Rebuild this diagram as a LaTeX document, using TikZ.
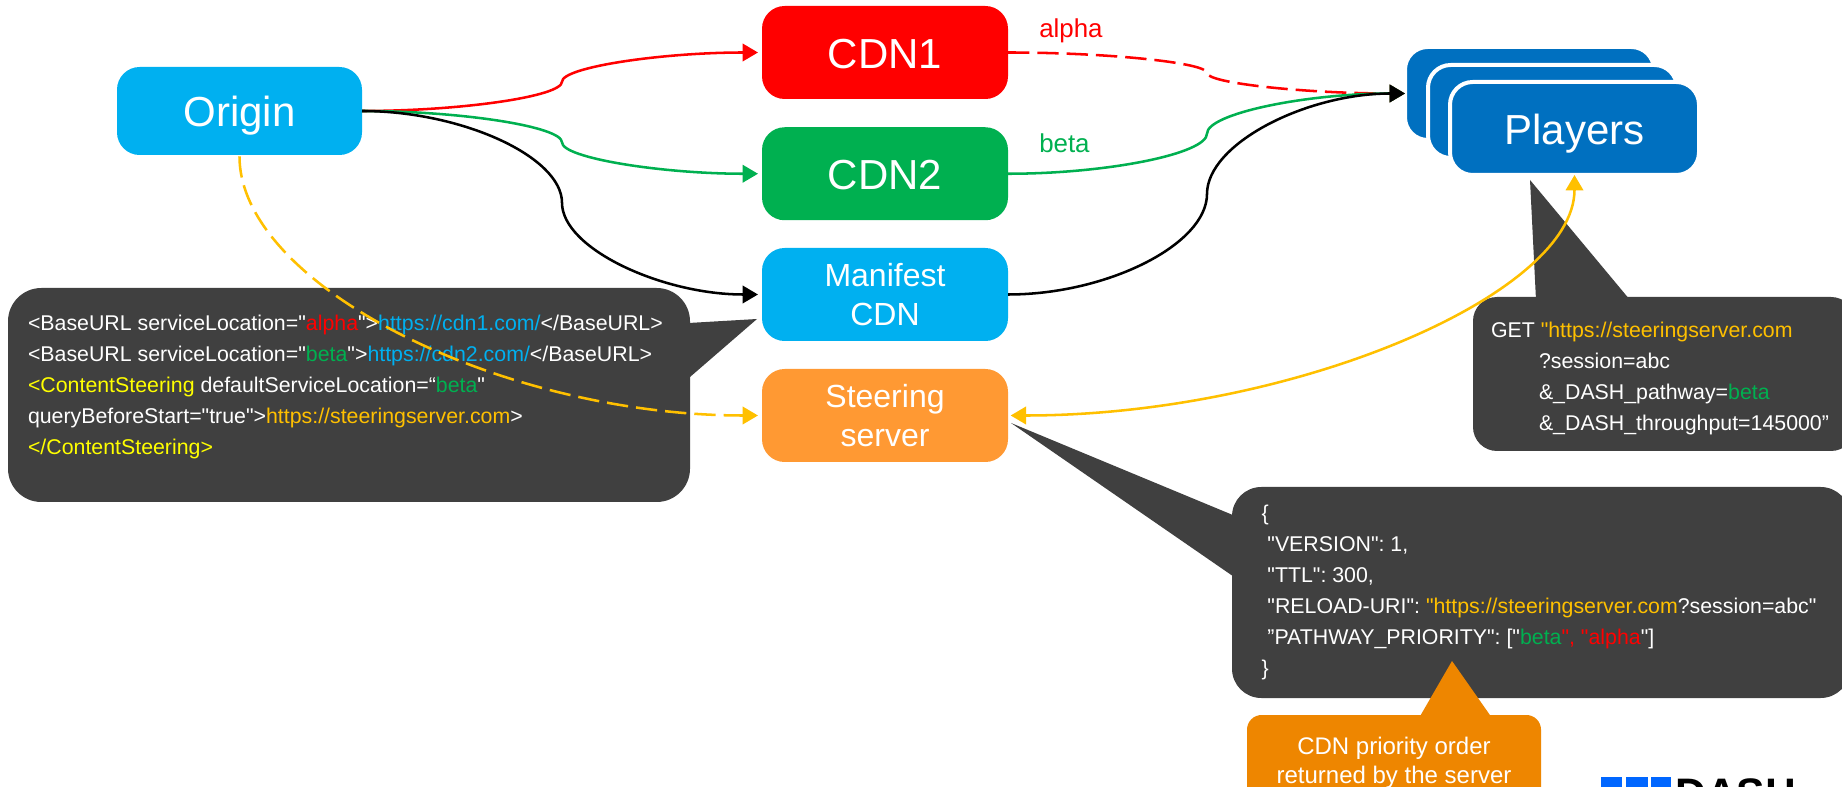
\documentclass[tikz,border=0pt]{standalone}
\usepackage{fontspec}
\setmainfont{Liberation Sans}[Ligatures=TeXOff]
\frenchspacing
\usetikzlibrary{arrows.meta,calc}
\definecolor{cdnblue}{HTML}{00B0F0}
\definecolor{cdnred}{HTML}{FF0000}
\definecolor{cdngreen}{HTML}{00B050}
\definecolor{steerorange}{HTML}{FF9933}
\definecolor{playerblue}{HTML}{0070C0}
\definecolor{calloutgrey}{HTML}{404040}
\definecolor{noteorange}{HTML}{EE8600}
\definecolor{linkyellow}{HTML}{FFC000}
\definecolor{tagyellow}{HTML}{FFFF00}
\definecolor{logoblue}{HTML}{0066FF}
\newcommand{\sconn}[4][]{%
  \draw[#1] let \p1=(#2), \p2=(#3), \p3=(#4) in
    (\p1) .. controls ({(\x1+\x3)/2},\y1) and (\x3,{\y1+(\y2-\y1)/4}) .. (\x3,{(\y1+\y2)/2})
          .. controls (\x3,{\y1+3*(\y2-\y1)/4}) and ({(\x3+\x2)/2},\y2) .. (\p2);}
\tikzset{
  box/.style={rectangle,rounded corners=17pt,inner sep=0pt,outer sep=0pt,text=white,align=center},
  onelarge/.style={font=\fontsize{31.5}{38}\selectfont,text height=24pt,text depth=0pt},
  twoline/.style={font=\fontsize{24}{29.25}\selectfont},
  cdnbox/.style={box,minimum width=184.5pt,minimum height=69.75pt},
  playerbox/.style={box,fill=playerblue,draw=white,line width=3pt,minimum width=186.75pt,minimum height=69.75pt},
  callout/.style={rectangle,fill=calloutgrey,inner sep=0pt,outer sep=0pt},
  calltext/.style={anchor=north west,inner sep=0pt,outer sep=0pt,text=white,align=left,font=\fontsize{16}{23.2}\selectfont},
  edgelabel/.style={anchor=base west,inner sep=0pt,font=\fontsize{19.4}{23}\selectfont},
  bigtip/.tip={Triangle[length=11.5pt,width=13pt]},
  conn/.style={line width=1.9pt,-bigtip},
  dashline/.style={dash pattern=on 16pt off 6pt},
}
\begin{document}
\begin{tikzpicture}[x=0.75pt,y=-0.75pt]
\useasboundingbox (0,0) rectangle (1842,787);
\clip (0,0) rectangle (1842,787);
\fill[white] (0,0) rectangle (1842,787);
% main boxes
\node[box,onelarge,fill=cdnblue,minimum width=183.75pt,minimum height=66pt] (origin) at (239.5,111) {Origin};
\node[cdnbox,onelarge,fill=cdnred] (cdn1) at (885,52.5) {CDN1};
\node[cdnbox,onelarge,fill=cdngreen] (cdn2) at (885,173.75) {CDN2};
\node[cdnbox,twoline,fill=cdnblue] (manifest) at (885,294.5) {Manifest\\CDN};
\node[cdnbox,twoline,fill=steerorange] (steering) at (885,415.5) {Steering\\server};
\node[playerbox] (playersback) at (1529.5,93.5) {};
\node[playerbox] (playersmid) at (1552.5,111.5) {};
\node[playerbox,onelarge] (players) at (1574.5,128.5) {Players};
% callouts
\fill[calloutgrey] (757,319) -- (680,323.5) -- (680,377) -- (690,377) -- cycle;
\node[callout,rounded corners=25pt,minimum width=511.5pt,minimum height=160.5pt] (manifestnote) at (349,395) {};
\node[calltext] (manifesttext) at (28,315) {%
<BaseURL serviceLocation="\textcolor{cdnred}{alpha}">\textcolor{cdnblue}{https://cdn1.com/}</BaseURL>\\
<BaseURL serviceLocation="\textcolor{cdngreen}{beta}">\textcolor{cdnblue}{https://cdn2.com/}</BaseURL>\\
\textcolor{tagyellow}{<ContentSteering} defaultServiceLocation=“\textcolor{cdngreen}{beta}"\\
queryBeforeStart="true">\textcolor{linkyellow}{https://steeringserver.com}>\\
\textcolor{tagyellow}{</ContentSteering>}};
\fill[calloutgrey] (1530,180) -- (1536,300) -- (1630,300) -- cycle;
\node[callout,rounded corners=18pt,minimum width=286.5pt,minimum height=115.5pt] (requestnote) at (1664,374) {};
\node[calltext] (requesttext) at (1491,322) {%
GET \textcolor{linkyellow}{"https://steeringserver.com}\\
\hspace*{36pt}?session=abc\\
\hspace*{36pt}\&\_DASH\_pathway=\textcolor{cdngreen}{beta}\\
\hspace*{36pt}\&\_DASH\_throughput=145000”};
\fill[calloutgrey] (1011,423) -- (1240,518) -- (1240,581) -- cycle;
\node[callout,rounded corners=22pt,minimum width=463.5pt,minimum height=158.25pt] (responsenote) at (1541,592.5) {};
\node[calltext] (responsetext) at (1261.5,505.5) {%
\{\\
\hspace*{4.45pt}"VERSION": 1,\\
\hspace*{4.45pt}"TTL": 300,\\
\hspace*{4.45pt}"RELOAD-URI": \textcolor{linkyellow}{"https://steeringserver.com}?session=abc"\\
\hspace*{4.45pt}”PATHWAY\_PRIORITY": ["\textcolor{cdngreen}{beta}\textcolor{cdnred}{", "alpha}"]\\
\}};
\fill[noteorange] (1452,661) -- (1419,718) -- (1492,718) -- cycle;
\node[callout,fill=noteorange,rounded corners=11pt,minimum width=220.5pt,minimum height=82.5pt] (prioritynote) at (1394,770) {};
\node[anchor=north,inner sep=0pt,text=white,align=center,font=\fontsize{18}{21.75}\selectfont] (prioritytext) at (1394,736.5) {CDN priority order\\returned by the server};
% connectors
\coordinate (leftmid) at (562,0);
\coordinate (rightmid) at (1207,0);
\sconn[conn,cdnred,shorten >=3pt]{origin.east}{cdn1.west}{leftmid}
\sconn[conn,cdngreen,shorten >=3pt]{origin.east}{cdn2.west}{leftmid}
\sconn[conn,black,shorten >=3pt]{origin.east}{manifest.west}{leftmid}
\sconn[conn,dashline,cdnred]{cdn1.east}{playersback.west}{rightmid}
\sconn[conn,cdngreen]{cdn2.east}{playersback.west}{rightmid}
\sconn[conn,black]{manifest.east}{playersback.west}{rightmid}
\draw[conn,dashline,linkyellow,shorten >=3pt,shorten <=1pt] let \p1=(origin.south), \p2=(steering.west) in
  (\p1) .. controls (\x1,{(\y1+\y2)/2}) and ({(\x1+\x2)/2},\y2) .. (\p2);
\draw[line width=1.9pt,linkyellow,bigtip-bigtip,shorten <=2pt] let \p1=(steering.east), \p2=(players.south) in
  (\p1) .. controls ({(\x1+\x2)/2},\y1) and (\x2,{(\y1+\y2)/2}) .. (\p2);
% labels
\node[edgelabel,text=cdnred] (alphalabel) at (1039,38) {alpha};
\node[edgelabel,text=cdngreen] (betalabel) at (1039,153) {beta};
% logo
\fill[logoblue] (1601,777) rectangle (1622,800);
\fill[logoblue] (1626,777) rectangle (1648,800);
\fill[logoblue] (1651,777) rectangle (1671,800);
\node[anchor=base west,inner sep=0pt,font=\fontsize{32}{38}\selectfont\bfseries] (dashlogo) at (1675,808) {DASH};
\end{tikzpicture}
\end{document}
